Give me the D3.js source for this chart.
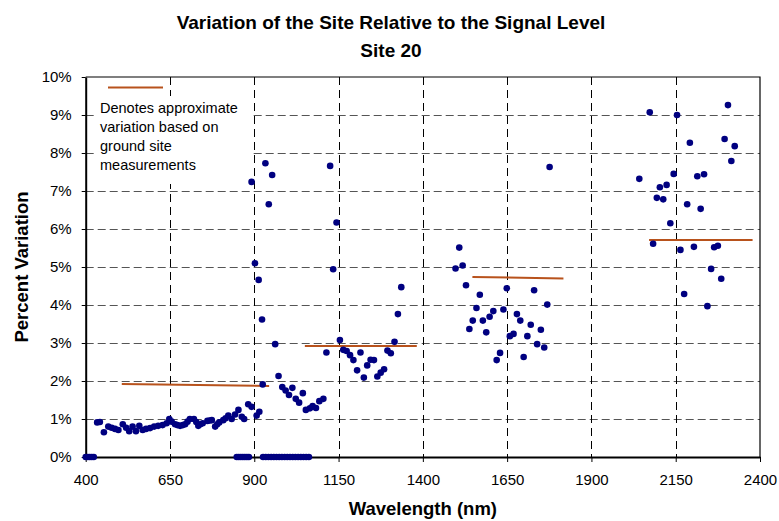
<!DOCTYPE html>
<html>
<head>
<meta charset="utf-8">
<script src="https://cdn.jsdelivr.net/npm/d3@7"></script>
<style>
  html, body { margin: 0; padding: 0; background: #fff; }
  svg { display: block; font-family: "Liberation Sans", Arial, sans-serif; }
</style>
</head>
<body>
<svg id="chart" width="779" height="521"></svg>
<script>
// ---- data ----
const chartTitle = "Variation of the Site Relative to the Signal Level";
const chartSubtitle = "Site 20";
const xAxisTitle = "Wavelength (nm)";
const yAxisTitle = "Percent Variation";
const legendText = ["Denotes approximate", "variation based on", "ground site", "measurements"];

const xTicks = [400, 650, 900, 1150, 1400, 1650, 1900, 2150, 2400];
const yTicks = [0, 0.01, 0.02, 0.03, 0.04, 0.05, 0.06, 0.07, 0.08, 0.09, 0.10];

// measured points: wavelength (nm) and percent variation (%)
const pointNm = [
  434, 442, 454, 467, 477, 487, 497, 510, 520, 529, 539, 549, 559, 569, 579, 591, 603, 615, 628, 640,
  648, 655, 665, 672, 680, 688, 695, 702, 709, 721, 728, 734, 740, 747, 761, 768, 774, 784, 790, 796,
  808, 815, 823, 833, 843, 853, 863, 870, 882, 892, 907, 915,
  892, 933, 953, 943, 902, 913, 923, 962, 972, 925, 983, 993, 1003, 1013, 1023, 1033, 1044, 1053,
  1065, 1073, 1083, 1093, 1105, 1114, 1125, 1134, 1144, 1154, 1164, 1174, 1184, 1194, 1205, 1215,
  1225, 1235, 1245, 1255, 1265, 1275, 1285, 1295, 1305, 1316, 1326, 1336,
  1497, 1508, 1518, 1528, 1538, 1548, 1559, 1569, 1578, 1588, 1598, 1609, 1619, 1629, 1639, 1649,
  1658, 1669, 1679, 1689, 1699, 1710, 1720, 1730, 1739, 1750, 1760, 1769, 1776,
  2042, 2073, 2083, 2094, 2103, 2113, 2123, 2134, 2144, 2154, 2164, 2175, 2184, 2192, 2204, 2214,
  2224, 2234, 2244, 2255, 2264, 2275, 2285, 2295, 2305, 2315, 2325
];
const pointPct = [
  0.91, 0.92, 0.65, 0.80, 0.77, 0.74, 0.71, 0.86, 0.77, 0.68, 0.80, 0.68, 0.82, 0.71, 0.74, 0.76, 0.80, 0.82, 0.84, 0.89,
  1.00, 0.93, 0.86, 0.84, 0.82, 0.84, 0.86, 0.93, 1.00, 1.00, 0.92, 0.82, 0.86, 0.89, 0.95, 0.96, 0.97, 0.80, 0.86, 0.91,
  0.97, 1.02, 1.09, 1.00, 1.12, 1.24, 1.06, 1.00, 1.39, 1.32, 1.09, 1.19,
  7.24, 7.73, 7.42, 6.65, 5.10, 4.66, 3.62, 2.97, 2.13, 1.91, 1.84, 1.75, 1.63, 1.82, 1.53, 1.43, 1.68, 1.24,
  1.28, 1.34, 1.29, 1.47, 1.53, 2.75, 7.66, 4.94, 6.17, 3.08, 2.82, 2.79, 2.68, 2.55, 2.28, 2.75,
  2.09, 2.41, 2.56, 2.55, 2.12, 2.22, 2.31, 2.80, 2.73, 3.03, 3.76, 4.47,
  4.96, 5.51, 5.04, 4.52, 3.37, 3.59, 3.92, 4.27, 3.59, 3.28, 3.69, 3.84, 2.55, 2.74, 3.88, 4.44,
  3.18, 3.24, 3.76, 3.59, 2.63, 3.18, 3.48, 4.39, 2.97, 3.35, 2.88, 4.01, 7.63,
  7.32, 9.07, 5.61, 6.82, 7.10, 6.78, 7.16, 6.15, 7.45, 9.00, 5.45, 4.29, 6.65, 8.27, 5.53, 7.39,
  6.53, 7.44, 3.97, 4.95, 5.52, 5.56, 4.69, 8.37, 9.26, 7.79, 8.18
];
// points sitting at 0 %
const zeroNm = [
  400, 406, 412, 418, 424,
  848, 854, 860, 866, 872, 878, 884,
  926, 934, 942, 950, 958, 966, 974, 982, 990, 998, 1006, 1014, 1022, 1030, 1038, 1046, 1054, 1062
];
// ground-site reference segments (%)
const refStartNm = [507, 1050, 1547, 2071];
const refEndNm   = [944, 1382, 1817, 2378];
const refStartPct = [1.92, 2.92, 4.74, 5.71];
const refEndPct   = [1.87, 2.92, 4.70, 5.71];

// ---- chart ----
const svg = d3.select("#chart");
const pLeft = 85.7, pRight = 760, pTop = 77, pBottom = 457;
const x = d3.scaleLinear().domain([400, 2400]).range([pLeft, pRight]);
const y = d3.scaleLinear().domain([0, 0.10]).range([pBottom, pTop]);

const dotColor = "#000080";
const refColor = "#b8521c";

// gridlines
const grid = svg.append("g");
grid.selectAll("line.h").data(yTicks.slice(1, -1)).join("line")
  .attr("x1", pLeft).attr("x2", pRight)
  .attr("y1", d => Math.round(y(d)) + 0.5).attr("y2", d => Math.round(y(d)) + 0.5)
  .attr("stroke", "#555").attr("stroke-width", 1).attr("stroke-dasharray", "8,4");
grid.selectAll("line.v").data(xTicks.slice(1, -1)).join("line")
  .attr("x1", d => Math.round(x(d)) + 0.5).attr("x2", d => Math.round(x(d)) + 0.5)
  .attr("y1", pTop).attr("y2", pBottom)
  .attr("stroke", "#000").attr("stroke-width", 1).attr("stroke-dasharray", "8,5");

// frame (top/right)
svg.append("path")
  .attr("d", `M${pLeft},${pTop}H${pRight}V${pBottom}`)
  .attr("fill", "none").attr("stroke", "#000").attr("stroke-width", 1.2);

// legend text box (white, hides the grid behind it)
svg.append("rect").attr("x", 95).attr("y", 96).attr("width", 157).attr("height", 88)
  .attr("fill", "#fff");

// axes
const xAxis = svg.append("g").attr("transform", `translate(0,${pBottom})`)
  .call(d3.axisBottom(x).tickValues(xTicks).tickSize(5).tickSizeOuter(0).tickPadding(12).tickFormat(d3.format("d")));
xAxis.select(".domain").attr("stroke-width", 2.2);
xAxis.selectAll(".tick line").attr("stroke-width", 1);
xAxis.selectAll("text").attr("font-size", 15).attr("fill", "#000");

const yAxis = svg.append("g").attr("transform", `translate(${pLeft},0)`)
  .call(d3.axisLeft(y).tickValues(yTicks).tickSize(4).tickSizeOuter(0).tickPadding(10).tickFormat(d3.format(".0%")));
yAxis.select(".domain").attr("stroke-width", 2);
yAxis.selectAll("text").attr("font-size", 15).attr("fill", "#000");

// reference segments
svg.append("g").selectAll("line").data(refStartNm.map((d, i) => i)).join("line")
  .attr("x1", i => x(refStartNm[i])).attr("x2", i => x(refEndNm[i]))
  .attr("y1", i => y(refStartPct[i] / 100)).attr("y2", i => y(refEndPct[i] / 100))
  .attr("stroke", refColor).attr("stroke-width", 2);

// points
const pts = pointNm.map((d, i) => ({ nm: d, v: pointPct[i] / 100 }))
  .concat(zeroNm.map(d => ({ nm: d, v: 0 })));
svg.append("g").selectAll("circle").data(pts).join("circle")
  .attr("cx", d => x(d.nm)).attr("cy", d => y(d.v)).attr("r", 3.3)
  .attr("fill", dotColor);

// legend
svg.append("line").attr("x1", 108).attr("x2", 163).attr("y1", 87.5).attr("y2", 87.5)
  .attr("stroke", refColor).attr("stroke-width", 2);
svg.append("g").selectAll("text").data(legendText).join("text")
  .attr("x", 100).attr("y", (d, i) => 113 + i * 19)
  .attr("font-size", 14.5).attr("fill", "#000").text(d => d);

// titles
svg.append("text").attr("x", 391).attr("y", 29).attr("text-anchor", "middle")
  .attr("font-size", 19).attr("font-weight", "bold").text(chartTitle);
svg.append("text").attr("x", 391).attr("y", 57).attr("text-anchor", "middle")
  .attr("font-size", 19).attr("font-weight", "bold").text(chartSubtitle);
svg.append("text").attr("x", (pLeft + pRight) / 2).attr("y", 515).attr("text-anchor", "middle")
  .attr("font-size", 18.5).attr("font-weight", "bold").text(xAxisTitle);
svg.append("text").attr("transform", `translate(28,${(pTop + pBottom) / 2}) rotate(-90)`)
  .attr("text-anchor", "middle")
  .attr("font-size", 18.5).attr("font-weight", "bold").text(yAxisTitle);
</script>
</body>
</html>
